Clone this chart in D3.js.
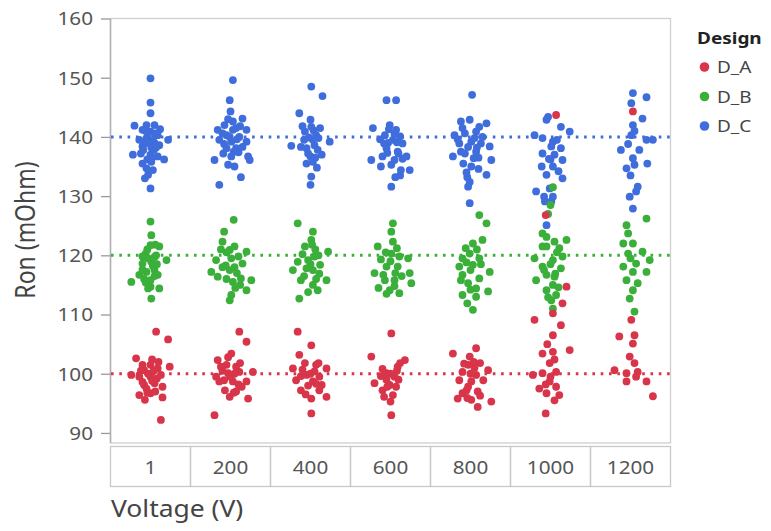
<!DOCTYPE html>
<html><head><meta charset="utf-8">
<script src="https://cdn.jsdelivr.net/npm/d3@7"></script>
<style>
html,body{margin:0;padding:0;background:#fff;}
svg{display:block;font-family:"Noto Sans","Open Sans",sans-serif;}
</style></head>
<body><svg id="chart" width="771" height="531"></svg>
<script>
// ---------- data ----------
const voltages = ["1","200","400","600","800","1000","1200"];
const designs = ["D_A","D_B","D_C"];
const designTargets = [100,120,140];
const yTicks = [90,100,110,120,130,140,150,160];
const xTitle = "Voltage (V)";
const yTitle = "Ron (mOhm)";
const legendTitle = "Design";
// each point: [jitter (fraction of category width), Ron]
const ronA = [
 [[0.07,107.1],[0.22,105.8],[-0.18,102.6],[0,101.5],[-0.08,100.6],[0.09,100.9],[0.24,101.2],[-0.24,99.8],[-0.14,99.5],[0,99.5],[0.13,99.8],[-0.08,98.1],[0.05,98.4],[0.15,97.8],[-0.14,96.4],[0,96.7],[0.15,96.0],[-0.07,95.6],[0.13,92.2],[-0.03,100],[0.04,100.5],[-0.05,97.5],[0.02,98.8],[-0.1,101.5],[-0.1,98.6],[0.08,99.2],[-0.04,96.8],[0.06,97],[-0.12,100.5],[0.1,102],[0.02,102.4]],
 [[0.11,107.1],[0.2,105.4],[0.01,103.4],[-0.16,102.3],[-0.05,101.5],[0.07,101.2],[-0.18,99.5],[-0.03,100.1],[0.11,100.3],[0.28,100.3],[-0.14,98.7],[0.03,98.7],[0.2,98.7],[-0.07,97.2],[0.07,97.0],[0.22,95.8],[-0.01,96.1],[-0.2,93.0],[0,99.5],[0.05,100],[-0.1,100.5],[-0.08,98.9],[0.1,98.2],[-0.03,102.8],[0.12,101.8],[-0.12,101.2],[0.04,96.8],[0.14,97.8]],
 [[-0.16,107.1],[0.01,104.8],[-0.14,103.2],[-0.07,101.8],[0.07,101.5],[-0.22,100.9],[0.2,100.9],[-0.05,99.8],[0.11,99.5],[-0.18,98.9],[0.03,98.7],[-0.12,97.2],[0.11,97.2],[0.01,95.8],[0.2,96.1],[0.01,93.3],[0,100],[0.05,100.4],[-0.03,98],[-0.1,100.7],[0.1,101.8],[-0.06,96.5],[0.07,98.3],[0.14,98.1],[-0.12,99.6]],
 [[0.01,106.8],[0.18,102.3],[0.09,101.2],[-0.05,100.1],[0.05,99.5],[-0.01,98.1],[-0.1,97.2],[0.03,96.4],[0.01,93.0],[-0.24,102.9],[-0.2,98.4],[-0.08,96.1],[0,100],[-0.05,99],[0.08,100.5],[0.12,101.8],[-0.1,100.8],[0.1,99],[-0.04,97.8],[0.07,97.8],[-0.12,99.6],[0.0,95.3]],
 [[-0.22,103.4],[0.07,104.3],[-0.01,102.9],[-0.03,101.5],[0.22,100.6],[-0.1,100.3],[0.07,99.8],[-0.14,98.9],[0.01,98.7],[0.16,98.9],[-0.05,97.2],[0.09,97.0],[-0.16,95.8],[0.01,95.6],[0.26,95.3],[0.09,94.4],[0,100],[0.05,101],[-0.03,97.8],[-0.08,101.7],[0.12,101.8],[-0.1,96.7],[0.12,96.3],[0.04,102],[-0.04,95.9]],
 [[0.07,143.7],[-0.06,126.8],[0.2,114.7],[0.15,111.9],[-0.2,109.1],[0.03,110.2],[0.13,108.2],[0.03,106.5],[0.24,104.0],[-0.1,103.4],[0.03,103.7],[-0.01,101.8],[-0.1,100.1],[0.07,100.3],[-0.22,99.8],[-0.01,98.7],[-0.14,97.5],[0.07,97.8],[-0.05,96.7],[0.11,96.4],[-0.06,93.3],[0,99.5],[-0.04,105],[0.05,102.4],[-0.06,98.2],[0.05,95.5]],
 [[0.03,144.3],[0.01,109.1],[0.05,106.5],[-0.14,106.3],[0.03,105.1],[-0.01,102.9],[0.05,101.8],[-0.2,100.6],[-0.05,100.1],[0.09,100.3],[-0.05,98.7],[0.2,98.7],[0.07,99.5],[0.28,96.2]]
];
const ronB = [
 [[0,125.7],[0.01,123.4],[0,121.7],[0.11,121.5],[-0.06,120.3],[0.07,120.0],[0.01,118.9],[0.2,119.2],[-0.1,118.6],[-0.05,117.2],[0.05,117.5],[-0.14,116.7],[-0.24,115.5],[0,115.8],[0.11,114.4],[0,114.7],[0.01,112.7],[-0.03,119.5],[0.03,118.2],[-0.08,116],[0.05,116.5],[-0.1,119.8],[0.08,118.5],[-0.04,121],[0.06,121.8],[-0.1,117.6],[0.09,116.7],[-0.03,114.4],[0.05,119.7],[-0.06,115.4]],
 [[0.04,126.0],[-0.08,124.0],[-0.1,122.3],[-0.01,120.9],[0.2,120.6],[-0.18,119.2],[0.01,119.5],[0.15,118.6],[-0.24,117.2],[-0.01,117.5],[-0.16,116.4],[0.13,116.1],[0.26,115.8],[0.03,115.5],[0.2,114.1],[0.01,113.3],[-0.01,112.4],[0.05,118],[-0.05,120.5],[0.08,117],[-0.06,118.3],[-0.12,121],[0.1,119.8],[0.05,121.5],[-0.05,116],[0.12,115],[0.06,114.5],[-0.1,118]],
 [[-0.16,125.4],[0.03,124.0],[0.01,122.6],[-0.07,121.5],[0.22,120.6],[0.1,120.0],[-0.03,119.2],[-0.16,118.9],[-0.22,117.5],[0.03,117.5],[0.11,116.9],[-0.12,115.8],[0.2,115.8],[0.03,115.0],[0.09,114.1],[-0.14,112.7],[0,118.5],[0.05,119.8],[-0.05,117.8],[0.06,121],[-0.1,120.2],[0.12,118.4],[-0.08,116.5],[0.07,116],[0.02,121.8],[-0.03,113.8]],
 [[0.03,125.4],[0.01,124.0],[0.03,122.3],[0.01,120.3],[0.11,119.8],[0.22,119.5],[-0.05,118.1],[0.09,118.1],[0.24,117.0],[-0.07,115.8],[0.05,115.8],[0.26,115.3],[-0.01,114.1],[0.11,113.6],[-0.16,121.5],[-0.2,117],[-0.12,119.3],[-0.15,114.5],[0.0,119],[0.06,117],[-0.06,120.5],[0.08,121.2],[-0.09,116.7],[0.14,116.5],[0.05,114.8],[-0.05,113.5]],
 [[0.11,126.8],[0.2,125.4],[0.15,122.6],[0.03,122.0],[-0.01,120.3],[-0.1,119.5],[0.11,119.5],[-0.14,118.1],[0.03,118.4],[0.24,117.2],[-0.1,116.7],[0.11,116.1],[-0.03,115.3],[0.07,114.4],[0.22,113.9],[-0.1,113.3],[0.07,113.0],[0.03,110.8],[0,117.5],[-0.05,118.8],[-0.06,121.2],[0.08,121],[-0.12,115.8],[0.13,118.5],[0.0,114.2],[-0.04,111.9]],
 [[0.03,131.5],[0,128.5],[-0.03,127],[-0.1,123.7],[-0.05,123.1],[0.05,122.3],[0.2,122.6],[-0.05,121.5],[0.11,121.2],[-0.2,119.5],[0.03,119.2],[0.15,119.8],[-0.1,118.1],[0.13,117.8],[-0.05,116.7],[0.05,116.4],[-0.18,115.8],[0.03,115.0],[-0.05,114.1],[0.07,113.3],[0.01,112.4],[0.03,111.0],[0,118.5],[-0.08,117.5],[0.08,120.5],[0.1,114.6],[-0.1,121.5],[0.06,116.9],[-0.03,112.9]],
 [[0.2,126.2],[-0.05,125.1],[-0.03,123.7],[-0.09,122.0],[0.03,122.0],[-0.03,120.3],[0.15,120.6],[0.24,119.2],[-0.09,118.1],[0.07,118.6],[0.03,117.2],[0.2,117.2],[-0.05,115.8],[0.09,115.3],[0.03,114.1],[-0.01,112.7],[0.05,110.5],[0,119.5]]
];
const ronC = [
 [[0,149.9],[0,145.8],[0,144.0],[-0.2,141.9],[-0.05,142.0],[0.05,142.0],[-0.1,141.2],[0,140.9],[0.09,140.3],[-0.14,139.5],[-0.05,139.8],[0.03,139.5],[0.22,139.5],[-0.1,138.4],[0.01,138.2],[0.11,138.6],[-0.22,137.0],[-0.12,137.2],[0,137.0],[0.09,136.7],[0.17,136.2],[-0.1,135.5],[0.01,135.8],[-0.05,134.7],[0.03,134.4],[-0.03,133.6],[-0.07,133.0],[0,131.3],[-0.03,140.5],[0.05,139],[-0.07,138.9],[0.04,137.8],[-0.06,141],[0.06,140.6],[-0.02,139.2],[0.07,138.2],[-0.09,137.8],[0.02,136.5],[-0.04,136.2],[0.12,141.3]],
 [[0.03,149.6],[-0.01,146.2],[0,144.3],[0.15,143.1],[0.03,142.6],[-0.075,142.0],[-0.16,141.2],[0.07,141.5],[0.2,141.2],[-0.05,140.3],[0.11,140.0],[-0.14,139.5],[0.01,139.2],[0.2,139.2],[-0.05,138.1],[0.07,138.1],[-0.2,136.1],[0.01,136.7],[0.22,136.7],[0.24,136.1],[-0.03,135.3],[0.05,135.0],[0.13,133.2],[-0.14,131.9],[-0.01,140.0],[0.03,141.2],[0.08,139.6],[-0.08,138.8],[-0.1,140.6],[0.12,141.8],[0.04,137.5],[-0.09,137.2],[0.1,137.4],[-0.03,143],[0.15,138.3]],
 [[0.01,148.5],[0.15,146.9],[-0.14,144.0],[0,142.9],[0.01,141.7],[-0.07,140.9],[0.07,140.3],[-0.24,138.5],[-0.08,139.5],[0.03,139.5],[0.24,139.2],[-0.05,138.1],[0.09,137.8],[0,136.7],[0.14,137.0],[-0.05,135.5],[0.03,135.8],[0.01,133.3],[0,131.9],[-0.02,139.9],[0.05,138.6],[0.1,139.8],[-0.1,141.8],[0.04,141.1],[0.12,141.5],[-0.12,138.3],[0.06,136.5],[-0.03,137.2],[0.08,134.8]],
 [[-0.05,146.2],[0.07,146.2],[-0.01,142.0],[0.07,141.2],[-0.07,140.3],[0.03,139.5],[0.15,138.9],[-0.05,138.1],[0.09,137.5],[-0.1,136.7],[0.05,136.1],[0.2,136.7],[0.01,135.3],[0.13,134.4],[0.24,134.4],[0.01,131.6],[-0.22,141.5],[-0.24,136.1],[-0.03,139],[0.05,140.5],[-0.08,138.9],[0.1,137.2],[0.12,133.5],[-0.02,141.3],[0.12,140.1],[-0.13,139.6],[0.08,139.1],[-0.04,137.3],[0.15,136.3],[0.06,133.2],[-0.12,135]],
 [[0.02,147.1],[-0.12,142.6],[-0.01,142.9],[0.2,142.3],[-0.2,140.3],[-0.07,140.6],[0.07,140.9],[0.15,140.0],[-0.14,138.9],[0.01,139.2],[0.13,138.9],[-0.22,136.7],[-0.07,137.2],[0.07,137.5],[0.24,138.4],[-0.09,135.5],[0.01,135.0],[0.26,136.1],[0.2,133.6],[-0.01,132.4],[-0.03,131.6],[-0.01,128.8],[0.05,139.8],[-0.03,138.3],[0.1,136.5],[-0.05,134],[-0.1,141.5],[0.11,141.7],[-0.16,139.6],[0.08,138.2],[-0.12,137.5],[0.04,136.4],[-0.04,133.2],[0.1,134.6]],
 [[-0.05,142.9],[0.13,141.7],[0.24,140.9],[-0.2,140.3],[-0.1,139.8],[0.03,139.2],[0.01,138.4],[0.13,138.1],[-0.1,137.2],[0.05,137.0],[0.15,136.1],[-0.11,135.0],[0.03,135.0],[-0.05,133.6],[0.15,133.0],[-0.18,130.8],[-0.01,131.3],[-0.08,129.9],[0.03,129.9],[-0.07,129.1],[0.01,129.1],[-0.05,125.1],[-0.03,143.4],[0.0,136.2],[0.08,139.5],[-0.02,136.3],[0.1,134.2]],
 [[0.03,147.4],[0.2,146.7],[0.01,145.7],[0.15,143.1],[0.03,142.0],[0.01,140.3],[0.2,139.5],[0.28,139.5],[-0.12,137.8],[0.11,137.8],[0.03,136.4],[0.21,135.5],[-0.05,134.7],[0.05,135.3],[0.09,131.6],[-0.01,129.9],[0.03,127.9],[0,133.5],[-0.03,138.8],[0.05,141],[0.07,130.8]]
];
const seriesData = [ronA, ronB, ronC];

// ---------- layout / style ----------
const SX = 1.15; // horizontal glyph stretch of the original rendering
const colors = d3.scaleOrdinal().domain(designs).range(["#d8354a","#3aaf3a","#3f6ddc"]);
const svg = d3.select("#chart");
const x = d3.scaleBand().domain(voltages).range([110.5, 670.5]).padding(0);
const y = d3.scaleLinear().domain([88.3, 160]).range([443, 18.5]);
const bw = x.bandwidth();

function stext(sel, px, py, str, opts) {
  return sel.append("text")
    .attr("transform", `translate(${px},${py}) scale(${opts.sx||SX},1)` + (opts.rot ? ` rotate(${opts.rot})` : ""))
    .attr("text-anchor", opts.anchor || "start")
    .attr("dominant-baseline", opts.baseline || "auto")
    .attr("font-size", opts.size)
    .attr("font-weight", opts.weight || "normal")
    .attr("fill", opts.fill || "#4a4a4a")
    .text(str);
}

// plot frame
svg.append("rect").attr("x", 110.5).attr("y", 18.5).attr("width", 560).attr("height", y.range()[0]-18.5)
  .attr("fill", "none").attr("stroke", "#cfcfcf").attr("stroke-width", 1.3);
svg.append("line").attr("x1", 110.5).attr("x2", 110.5).attr("y1", 18.5).attr("y2", 443)
  .attr("stroke", "#b0b0b0").attr("stroke-width", 1.5);

// y axis
const yAxis = d3.axisLeft(y).tickValues(yTicks).tickSize(9).tickPadding(0).tickFormat(d3.format("d"));
const gy = svg.append("g").attr("transform", "translate(110,0)").call(yAxis);
gy.select(".domain").remove();
gy.selectAll(".tick line").attr("stroke", "#9a9a9a").attr("stroke-width", 1.3);
gy.selectAll(".tick text").remove();
yTicks.forEach(t => {
  stext(svg, 93, y(t), String(t), {anchor: "end", baseline: "central", size: 18, fill: "#555"});
});

// reference dotted lines
designs.forEach((d, i) => {
  svg.append("line")
    .attr("x1", 111).attr("x2", 670)
    .attr("y1", y(designTargets[i])).attr("y2", y(designTargets[i]))
    .attr("stroke", colors(d)).attr("stroke-width", 3)
    .attr("stroke-dasharray", "2.6,5.7");
});

// category table
const gx = svg.append("g");
gx.selectAll("rect").data(voltages).join("rect")
  .attr("x", d => x(d)).attr("y", 446.5).attr("width", bw).attr("height", 40)
  .attr("fill", "none").attr("stroke", "#c8c8c8").attr("stroke-width", 1.3);
voltages.forEach(v => {
  stext(svg, x(v) + bw/2, 467, v, {anchor: "middle", baseline: "central", size: 18, fill: "#555"});
});

// points (drawn C, B, A so red lies on top)
const pts = [];
[2,1,0].forEach(si => {
  seriesData[si].forEach((grp, vi) => {
    grp.forEach(p => pts.push({design: designs[si], volt: voltages[vi], j: p[0], v: p[1]}));
  });
});
svg.append("g").selectAll("circle").data(pts).join("circle")
  .attr("cx", d => x(d.volt) + bw/2 + d.j * bw)
  .attr("cy", d => y(d.v))
  .attr("r", 3.9)
  .attr("fill", d => colors(d.design));

// titles
stext(svg, 111, 517, xTitle, {anchor: "start", size: 23, fill: "#444"});
stext(svg, 35, 230, yTitle, {anchor: "middle", size: 23, fill: "#444", rot: -90});

// legend
stext(svg, 697, 44, legendTitle, {anchor: "start", size: 16.5, weight: "bold", fill: "#222"});
designs.forEach((d, i) => {
  const ly = 67 + i * 29.5;
  svg.append("circle").attr("cx", 704.5).attr("cy", ly).attr("r", 4.8).attr("fill", colors(d));
  stext(svg, 717, ly, d, {anchor: "start", baseline: "central", size: 16.5, fill: "#444"});
});
</script></body></html>
